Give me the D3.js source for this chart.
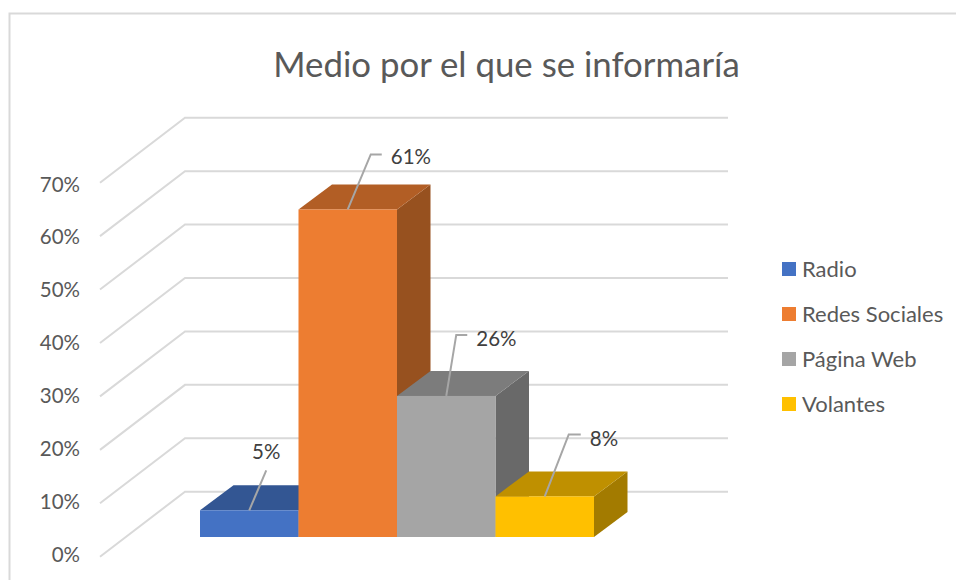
<!DOCTYPE html>
<html>
<head>
<meta charset="utf-8">
<script src="https://cdn.jsdelivr.net/npm/d3@7"></script>
<style>
  html, body { margin: 0; background: #fff; }
  svg { display: block; font-family: Lato, "Open Sans", sans-serif; }
</style>
</head>
<body>
<div class="chart"></div>
<script>
// data
var categories = ['Radio', 'Redes Sociales', 'Página Web', 'Volantes'];
var values     = [0.05, 0.613, 0.264, 0.076];
var yTicks     = [0, 0.1, 0.2, 0.3, 0.4, 0.5, 0.6, 0.7];
var titleText  = 'Medio por el que se informaría';

// colours: front, top, side
var front = ['#4472C4', '#ED7D31', '#A5A5A5', '#FFC000'];
var top_  = ['#335693', '#B25E25', '#7C7C7C', '#BF9000'];
var side  = ['#2B4A80', '#97511F', '#696969', '#A37B00'];

// leader line bends relative to the middle of the bar's top edge: dx, dy, elbow, label dy
var leaders = [[17, -40, 0, 0], [23, -55, 11, 10], [10, -61, 11, 11], [24, -62, 12, 12]];

var width = 956, height = 580;

// wall depth and bar depth
var wallDx = 85, wallDy = -65;
var barDx = 33.5, barDy = -25;
var floorY = 537;

var y = d3.scaleLinear().domain([0, 0.7]).range([556.7, 182.7]);
// the tick labels sit on a slightly tighter spacing than the gridlines
var yLabels = d3.scaleLinear().domain([0, 0.7]).range([555, 184.5]);
var x = d3.scaleBand().domain(categories).range([200, 594]);
var fmt = d3.format('.0%');

var svg = d3.select('.chart')
    .append('svg')
    .attr('width', width)
    .attr('height', height);

// chart frame, runs off the right and bottom of the picture
svg.append('rect')
    .attr('x', 9.5)
    .attr('y', 13.5)
    .attr('width', 1000)
    .attr('height', 1000)
    .attr('fill', 'none')
    .attr('stroke', '#D9D9D9')
    .attr('stroke-width', 2);

svg.append('text')
    .attr('x', 506.5)
    .attr('y', 77)
    .attr('text-anchor', 'middle')
    .attr('font-size', 34.8)
    .attr('fill', '#595959')
    .text(titleText);

// gridlines on the side wall and back wall
svg.append('g')
    .selectAll('path')
    .data(yTicks)
    .enter()
    .append('path')
    .attr('fill', 'none')
    .attr('stroke', '#D9D9D9')
    .attr('stroke-width', 2)
    .attr('d', function(d) {
        var p = d3.path();
        p.moveTo(100, y(d));
        p.lineTo(100 + wallDx, y(d) + wallDy);
        p.lineTo(728, y(d) + wallDy);
        return p.toString();
    });

// axis
var yAxis = d3.axisLeft(yLabels).tickValues(yTicks).tickFormat(fmt).tickSize(0).tickPadding(20);
var axisG = svg.append('g')
    .attr('transform', 'translate(100,0)')
    .call(yAxis);
axisG.select('.domain').remove();
axisG.selectAll('text')
    .attr('font-family', 'Lato, "Open Sans", sans-serif')
    .attr('font-size', 20.5)
    .attr('fill', '#595959');

function poly(pts) {
    return pts.map(function(p) { return p.join(','); }).join(' ');
}

// bars, left to right so each one overlaps the previous side face
var bars = svg.selectAll('g.bar')
    .data(categories)
    .enter()
    .append('g')
    .attr('class', 'bar');

var bh = function(i) { return y(0) - y(values[i]); };

bars.append('polygon')
    .attr('fill', function(d, i) { return side[i]; })
    .attr('points', function(d, i) {
        var r = x(d) + x.bandwidth(), t = floorY - bh(i);
        return poly([[r, t], [r + barDx, t + barDy], [r + barDx, floorY + barDy], [r, floorY]]);
    });

bars.append('polygon')
    .attr('fill', function(d, i) { return top_[i]; })
    .attr('points', function(d, i) {
        var l = x(d), r = l + x.bandwidth(), t = floorY - bh(i);
        return poly([[l, t], [l + barDx, t + barDy], [r + barDx, t + barDy], [r, t]]);
    });

bars.append('rect')
    .attr('fill', function(d, i) { return front[i]; })
    .attr('x', function(d) { return x(d); })
    .attr('width', x.bandwidth())
    .attr('y', function(d, i) { return floorY - bh(i); })
    .attr('height', function(d, i) { return bh(i); });

// data labels with leader lines
var labels = svg.selectAll('g.label')
    .data(categories)
    .enter()
    .append('g')
    .attr('class', 'label');

labels.append('path')
    .attr('fill', 'none')
    .attr('stroke', '#A6A6A6')
    .attr('stroke-width', 2)
    .attr('d', function(d, i) {
        var cx = x(d) + x.bandwidth() / 2, t = floorY - bh(i), l = leaders[i];
        var p = d3.path();
        p.moveTo(cx, t);
        p.lineTo(cx + l[0], t + l[1]);
        if (l[2]) p.lineTo(cx + l[0] + l[2], t + l[1]);
        return p.toString();
    });

labels.append('text')
    .attr('font-size', 20.5)
    .attr('fill', '#404040')
    .attr('text-anchor', function(d, i) { return leaders[i][2] ? 'start' : 'middle'; })
    .attr('x', function(d, i) {
        var cx = x(d) + x.bandwidth() / 2, l = leaders[i];
        return l[2] ? cx + l[0] + l[2] + 9 : cx + l[0];
    })
    .attr('y', function(d, i) {
        var t = floorY - bh(i), l = leaders[i];
        return l[2] ? t + l[1] + l[3] : t + l[1] - 11;
    })
    .text(function(d, i) { return fmt(values[i]); });

// legend
var legendY = d3.scalePoint().domain(categories).range([269, 404]);

var legend = svg.selectAll('g.legend')
    .data(categories)
    .enter()
    .append('g')
    .attr('class', 'legend')
    .attr('transform', function(d) { return 'translate(782,' + legendY(d) + ')'; });

legend.append('rect')
    .attr('y', -7)
    .attr('width', 14)
    .attr('height', 14)
    .attr('fill', function(d, i) { return front[i]; });

legend.append('text')
    .attr('x', 20)
    .attr('y', 8)
    .attr('font-size', 22)
    .attr('fill', '#595959')
    .text(function(d) { return d; });
</script>
</body>
</html>
